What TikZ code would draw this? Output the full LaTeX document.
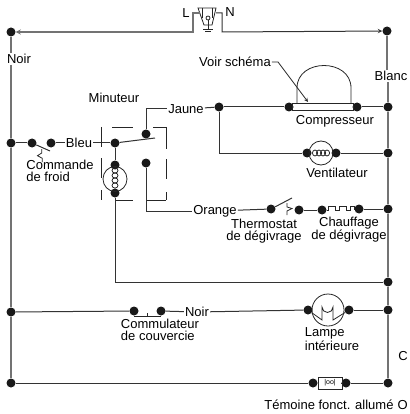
\documentclass[tikz,border=0pt]{standalone}
\usepackage{fontspec}
\setmainfont{Liberation Sans}
\usepackage{xcolor}

\begin{document}
\begin{tikzpicture}[x=1pt, y=-1pt,
        dot/.style={circle, fill=black!90, inner sep=0pt, minimum size=9pt},
        lbl/.style={inner sep=1pt, font=\fontsize{13}{12}\selectfont, align=left},
        wire/.style={draw=black!80, line width=1pt},
        bus/.style={draw=black!55, line width=1.3pt},
        part/.style={draw=black!85, line width=0.8pt}]
        \useasboundingbox (0,0) rectangle (409,414);

        % left bus
        \node[dot] (TL) at (11,32) {};
        \node[dot] (L1) at (11,143) {};
        \node[dot] (L2) at (11,312) {};
        \node[dot] (L3) at (11,383) {};
        \node[lbl] (noir) at (19,59) {Noir};

        % right bus
        \node[dot] (TR) at (387,31) {};
        \node[dot] (R1) at (388,107) {};
        \node[dot] (R2) at (388,153) {};
        \node[dot] (R3) at (388,209) {};
        \node[dot] (R4) at (388,282) {};
        \node[dot] (R5) at (388,310) {};
        \node[dot] (R6) at (388,383) {};
        \node[lbl] (blanc) at (391,76) {Blanc};

        % door switch at the top
        \node[lbl] (lL) at (186,13) {L};
        \node[lbl] (lN) at (230,12) {N};
        \coordinate (SL) at (200,13);
        \coordinate (SN) at (216,13);
        \coordinate (KL) at (193,32);
        \coordinate (KN) at (222,32);
        \draw[part] (198,8) -- (216,8) -- (212,25) -- (204,25) -- cycle;
        \draw[part] (202,8) -- (202,18) (212,8) -- (212,18);
        \draw[part] (208,18) circle (2);
        \draw[part] (208,20) -- (208,29) (203,29) -- (213,29) (205,31) -- (211,31);

        \draw[bus, -stealth] (SL) -- (193,13) -- (KL) -- (TL);
        \draw[wire, -stealth] (SN) -- (222,13) -- (KN) -- (TR);

        \draw[bus] (TL) -- (TL |- noir.north);
        \draw[bus] (TL |- noir.south) -- (L1);
        \draw[bus] (L1) -- (L2);
        \draw[bus] (L2) -- (L3);
        \draw[bus] (TR) -- (TR |- blanc.north);
        \draw[bus] (R1 |- blanc.south) -- (R1);
        \draw[bus] (R1) -- (R2);
        \draw[bus] (R2) -- (R3);
        \draw[bus] (R3) -- (R4);
        \draw[bus] (R4) -- (R5);
        \draw[bus] (R5) -- (R6);

        % cold control and timer
        \node[dot] (C1) at (32,143) {};
        \node[dot] (C2) at (51,143) {};
        \node[lbl] (bleu) at (79,143) {Bleu};
        \node[dot] (M1) at (115,143) {};
        \node[dot] (M2) at (115,165) {};
        \node[dot] (M3) at (115,193) {};
        \node[dot] (J1) at (146,134) {};
        \node[dot] (J2) at (146,163) {};
        \coordinate (BL) at (155,138);
        \coordinate (CB) at (50,151);
        \node[lbl] (minut) at (114,98) {Minuteur};
        \node[lbl] (jaune) at (186,109) {Jaune};
        \node[lbl] (orange) at (215,211) {Orange};
        \node[lbl] (cmd) at (60,171) {Commande\\de froid};

        \draw[wire] (L1) -- (C1);
        \draw[wire] (C1) -- (CB);
        \draw[part] (41.7,149) -- (41.7,153) -- (37.5,155.7) -- (42.3,158.3) -- (42.3,162);
        \draw[wire] (C2) -- (bleu);
        \draw[wire] (bleu) -- (M1);
        \draw[wire] (M1) -- (BL);
        \draw[wire] (M1) -- (M2);
        \draw[part] (115,179) ellipse (12 and 12.5);
        \foreach \y in {170.5,175.5,180.5,185.5}
            \draw[part] (115,\y) ellipse (3 and 2.6);
        \draw[wire] (J1) |- (jaune);
        \draw[wire] (J2) |- (orange);
        % dashed timer box
        \foreach \a/\b/\c in {101/127/147,101/158/178,101/190/200,166/127/149,166/159/179,166/192/200}
            \draw[part] (\a,\b) -- (\a,\c);
        \draw[part] (112,127) -- (133,127) (153,127) -- (166,127);
        \draw[part] (115,200) -- (133,200) (147,200) -- (166,200);

        % compressor
        \node[dot] (P1) at (219,107) {};
        \node[dot] (P2) at (289,107) {};
        \node[dot] (P3) at (357,107) {};
        \node[lbl] (voir) at (235,62) {Voir schéma};
        \node[lbl] (comp) at (335,121) {Compresseur};
        \coordinate (VK) at (278,62);
        \coordinate (VA) at (308,102);
        \draw[part] (292,103) rectangle (353,110);
        \draw[part] (297,103) -- (297,88) .. controls (297,58) and (351,58) .. (351,88) -- (351,103);
        \draw[wire] (jaune) -- (P1);
        \draw[wire] (P1) -- (P2);
        \draw[wire] (P3) -- (R1);
        \draw[part, -stealth] (voir) -- (VK) -- (VA);

        % fan
        \node[dot] (V1) at (307,153) {};
        \node[dot] (V2) at (336,153) {};
        \node[lbl] (vent) at (337,173) {Ventilateur};
        \draw[part] (321,153) circle (12);
        \foreach \x in {315,319,323,327}
            \draw[part] (\x,153) ellipse (2.6 and 3);
        \draw[wire] (P1) |- (V1);
        \draw[wire] (V2) -- (R2);

        % defrost
        \node[dot] (T1) at (271,209) {};
        \node[dot] (T2) at (299,210) {};
        \node[dot] (H1) at (322,210) {};
        \node[dot] (H2) at (359,209) {};
        \coordinate (TB) at (292,198);
        \node[lbl, align=center] (therm) at (264,231) {Thermostat\\de dégivrage};
        \node[lbl, align=center] (chauf) at (349,230) {Chauffage\\de dégivrage};
        \draw[wire] (orange) -- (T1);
        \draw[wire] (T1) -- (TB);
        \draw[part] (287,203) -- (287,207) -- (292,208.5) -- (287,211) -- (287,215);
        \draw[wire] (T2) -- (H1);
        \draw[part] (H1) -- (328,210) -- (328,206) -- (335,206) -- (335,210) -- (339,210)
            -- (339,206) -- (346,206) -- (346,210) -- (350,210) -- (350,206) -- (354,206) -- (354,209) -- (H2);
        \draw[wire] (H2) -- (R3);

        % timer motor return
        \coordinate (MK) at (115,282);
        \draw[wire] (M3) -- (MK) -- (R4);

        % door switch and lamp
        \node[dot] (D1) at (134,311) {};
        \node[dot] (D2) at (161,311) {};
        \node[lbl] (noirb) at (197,312) {Noir};
        \node[lbl] (comm) at (160,330) {Commulateur\\de couvercie};
        \node[dot] (A1) at (308,310) {};
        \node[dot] (A2) at (349,310) {};
        \node[lbl] (lamp) at (332,339) {Lampe\\intérieure};
        \draw[wire] (L2) -- (D1);
        \draw[part] (134,316) -- (161,316) (147,313) -- (147,316);
        \draw[wire] (D2) -- (noirb);
        \draw[wire] (noirb) -- (A1);
        \draw[part] (328,310) circle (16);
        \draw[part] (A1) -- (322,320) -- (322,307) arc (180:0:5.5) -- (333,320) -- (A2);
        \draw[wire] (A2) -- (R5);

        % pilot light
        \node[dot] (W1) at (313,383) {};
        \node[dot] (W2) at (346,383) {};
        \node[lbl, draw=black!85, line width=0.8pt, minimum width=24pt, minimum height=12pt, inner sep=0pt, font=\fontsize{7}{7}\selectfont] (pilot) at (330,383) {\textbar oo\textbar};
        \node[lbl] (temo) at (329,405) {Témoine fonct. allumé};
        \draw[wire] (L3) -- (W1);
        \draw[wire] (W1) -- (pilot);
        \draw[wire] (pilot) -- (W2);
        \draw[wire] (W2) -- (R6);

        % letters at the margin
        \node[lbl, anchor=east, inner sep=0pt] (cutC) at (408,356) {C};
        \node[lbl, anchor=east, inner sep=0pt] (cutO) at (408,405) {O};
    \end{tikzpicture}
\end{document}
